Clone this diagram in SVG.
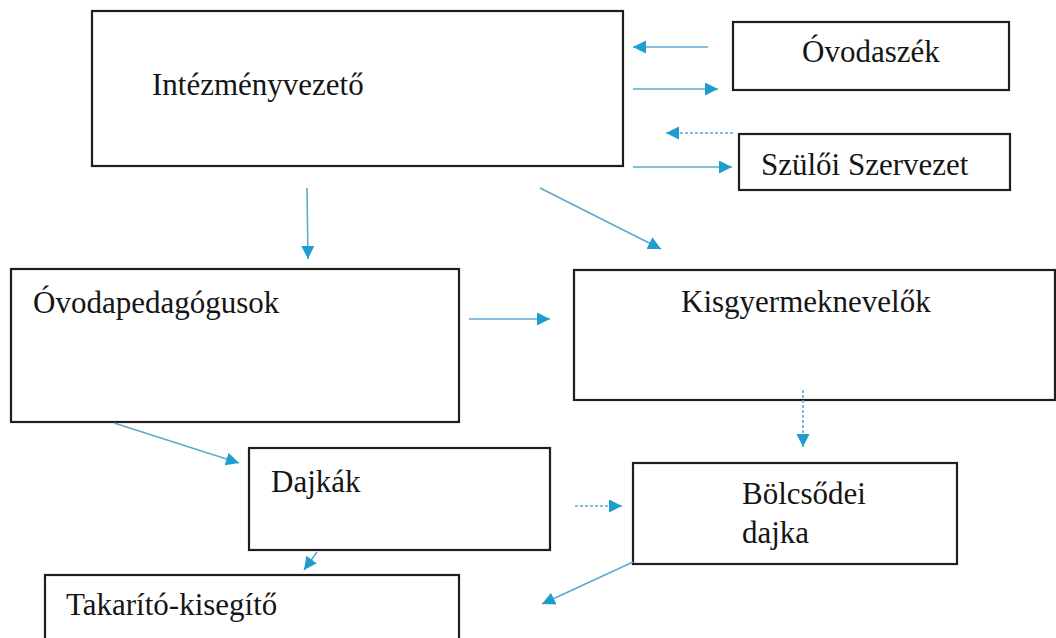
<svg xmlns="http://www.w3.org/2000/svg" width="1056" height="638" viewBox="0 0 1056 638">
<style>
.box{fill:#fff;stroke:#1e1e1e;stroke-width:2.2}
.t{font-family:'Liberation Serif','DejaVu Serif','Times New Roman',serif;font-size:31px;fill:#151515}
.c{fill:none;stroke:#5ea9cf;stroke-width:1.6;marker-end:url(#ah)}
.d{stroke-dasharray:3 2}
</style>
<defs>
<marker id="ah" markerUnits="userSpaceOnUse" markerWidth="14" markerHeight="14" refX="13" refY="6.5" orient="auto">
<path d="M0,0 L13,6.5 L0,13 Z" fill="#1f9dd0"/>
</marker>
</defs>
<rect width="1056" height="638" fill="#fff"/>
<g id="intezmenyvezeto"><rect class="box" x="92" y="11" width="531" height="155"/><text class="t" font-family="Liberation Serif, serif" x="152" y="95">Intézményvezető</text></g>
<g id="ovodaszek"><rect class="box" x="733" y="22" width="276" height="68"/><text class="t" x="802" y="62">Óvodaszék</text></g>
<g id="szuloi"><rect class="box" x="739" y="134" width="271" height="56"/><text class="t" x="761" y="175">Szülői Szervezet</text></g>
<g id="ovodapedagogusok"><rect class="box" x="11" y="269" width="448" height="153"/><text class="t" x="33" y="313">Óvodapedagógusok</text></g>
<g id="kisgyermeknevelok"><rect class="box" x="574" y="270" width="481" height="130"/><text class="t" x="681" y="312">Kisgyermeknevelők</text></g>
<g id="dajkak"><rect class="box" x="249" y="448" width="301" height="102"/><text class="t" x="271" y="492">Dajkák</text></g>
<g id="bolcsodei"><rect class="box" x="633" y="463" width="324" height="101"/><text class="t" x="742" y="504">Bölcsődei</text><text class="t" x="742" y="543">dajka</text></g>
<g id="takarito"><rect class="box" x="45" y="575" width="414" height="80"/><text class="t" x="66" y="615">Takarító-kisegítő</text></g>
<g id="connectors">
<line class="c" x1="708" y1="47" x2="633" y2="47"/>
<line class="c" x1="633" y1="89" x2="718" y2="89"/>
<line class="c d" x1="733" y1="133" x2="666" y2="133"/>
<line class="c" x1="633" y1="167" x2="732" y2="167"/>
<line class="c" x1="307" y1="188" x2="308" y2="259"/>
<line class="c" x1="540" y1="188" x2="661" y2="249"/>
<line class="c" x1="469" y1="319" x2="550" y2="319"/>
<line class="c d" x1="803" y1="390" x2="803" y2="447"/>
<line class="c" x1="114" y1="423" x2="239" y2="463"/>
<line class="c d" x1="575" y1="506" x2="622" y2="506"/>
<line class="c" x1="317" y1="552" x2="304" y2="570"/>
<line class="c" x1="633" y1="562" x2="542" y2="604"/>
</g>
</svg>
